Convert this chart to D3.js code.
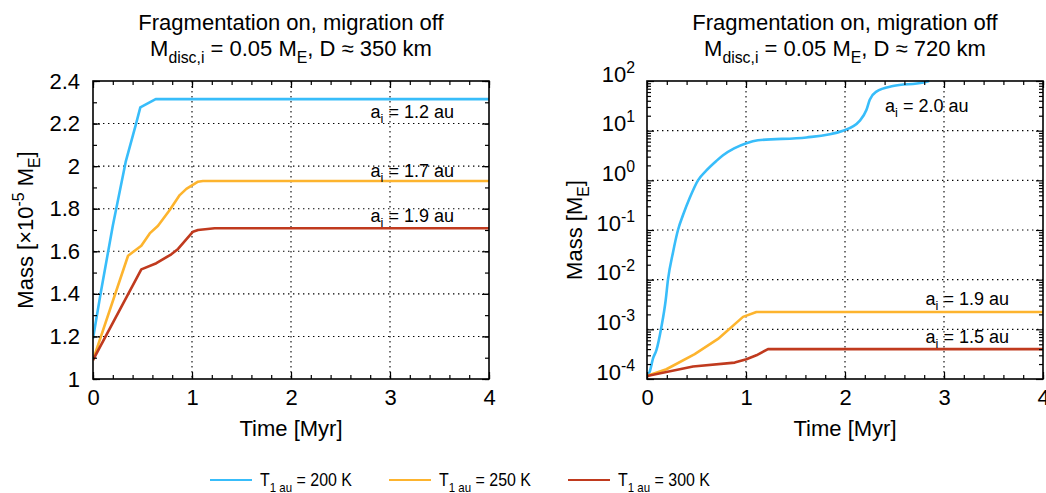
<!DOCTYPE html>
<html>
<head>
<meta charset="utf-8">
<script src="https://cdn.jsdelivr.net/npm/d3@7"></script>
<style>
  body { margin: 0; background: #fff; }
  svg { display: block; font-family: "Liberation Sans", Arial, sans-serif; }
</style>
</head>
<body>
<svg id="chart" width="1046" height="493"></svg>
<script>
// temperatures at 1 au, one series each
const tempLabels = ['200 K', '250 K', '300 K'];
const tempColors = ['#38bdfa', '#fdb42e', '#c03a1e'];

// left panel, D ~ 350 km, mass in units of 1e-5 M_E  [time Myr, mass]
const left200 = [[0, 1.19], [0.08, 1.41], [0.2, 1.72], [0.33, 2.02], [0.43, 2.19], [0.478, 2.276], [0.633, 2.315], [4, 2.315]];
const left250 = [[0, 1.089], [0.354, 1.579], [0.488, 1.626], [0.573, 1.684], [0.657, 1.72], [0.775, 1.794], [0.876, 1.864], [0.943, 1.893], [1.061, 1.927], [1.11, 1.93], [4, 1.93]];
const left300 = [[0, 1.089], [0.488, 1.515], [0.64, 1.544], [0.791, 1.586], [0.859, 1.611], [1.01, 1.692], [1.061, 1.70], [1.229, 1.708], [4, 1.708]];
const leftNotes = ['1.2', '1.7', '1.9'];

// right panel, D ~ 720 km, mass in M_E
const right200 = [[0, 1.15e-4], [0.027, 1.4e-4], [0.061, 2.6e-4], [0.095, 3.8e-4], [0.145, 1.1e-3], [0.189, 3.9e-3], [0.212, 1e-2],
  [0.262, 3.5e-2], [0.313, 0.1], [0.364, 0.2], [0.431, 0.44], [0.515, 1.0], [0.6, 1.58], [0.7, 2.45], [0.768, 3.2], [0.88, 4.4], [1.004, 5.6],
  [1.12, 6.4], [1.61, 7.3], [1.98, 10], [2.148, 15.8], [2.216, 26], [2.25, 42], [2.317, 61], [2.485, 79], [2.79, 93], [2.85, 100]];
const right250 = [[0, 1.15e-4], [0.196, 1.57e-4], [0.482, 3.16e-4], [0.717, 6.4e-4], [0.97, 1.78e-3], [1.105, 2.24e-3], [4, 2.24e-3]];
const right300 = [[0, 1.15e-4], [0.465, 1.78e-4], [0.886, 2.14e-4], [1.004, 2.5e-4], [1.105, 3.0e-4], [1.222, 4.0e-4], [4, 4.0e-4]];
const rightNotes = ['2.0', '1.9', '1.5'];

const timeTicks = [0, 1, 2, 3, 4];
const timeMinor = d3.range(0, 4.01, 0.2);
const linTicks = [1, 1.2, 1.4, 1.6, 1.8, 2, 2.2, 2.4];
const linMinor = d3.range(1, 2.41, 0.1);
const logTicks = [1e-4, 1e-3, 1e-2, 1e-1, 1, 10, 100];
const logMinor = d3.range(-4, 2).flatMap(e => d3.range(2, 10).map(k => k * Math.pow(10, e)));

const svg = d3.select('#chart');
const FS = 22;

function rich(sel, parts, size) {
  let shift = 0;
  parts.forEach(([s, kind]) => {
    const target = kind === 'sub' ? size * 0.3 : kind === 'sup' ? -size * 0.4 : 0;
    sel.append('tspan')
      .attr('dy', target - shift)
      .attr('font-size', kind ? size * 0.72 : size)
      .text(s);
    shift = target;
  });
  return sel;
}

function panel(cfg) {
  const x = d3.scaleLinear().domain([0, 4]).range([cfg.x0, cfg.x1]);
  const y = cfg.y.range([cfg.y1, cfg.y0]);
  const g = svg.append('g');

  // dotted grid
  const grid = g.append('g');
  grid.selectAll('line.v').data(timeTicks.slice(1, -1)).join('line').attr('class', 'v')
    .attr('x1', d => x(d)).attr('x2', d => x(d)).attr('y1', cfg.y0).attr('y2', cfg.y1);
  grid.selectAll('line.h').data(cfg.ticks.slice(1, -1)).join('line').attr('class', 'h')
    .attr('y1', d => y(d)).attr('y2', d => y(d)).attr('x1', cfg.x0).attr('x2', cfg.x1);
  grid.selectAll('line').attr('stroke', '#000').attr('stroke-width', 1.1).attr('stroke-dasharray', '1.4,3.6');

  // curves
  const clip = 'clip' + cfg.id;
  svg.append('clipPath').attr('id', clip).append('rect')
    .attr('x', cfg.x0).attr('y', cfg.y0 - 1).attr('width', cfg.x1 - cfg.x0).attr('height', cfg.y1 - cfg.y0 + 1);
  cfg.series.forEach((s, i) => {
    const line = d3.line().x(d => x(d[0])).y(d => y(d[1]))
      .curve(cfg.smooth && i === 0 ? d3.curveMonotoneX : d3.curveLinear);
    g.append('path').datum(s).attr('clip-path', `url(#${clip})`)
      .attr('fill', 'none').attr('stroke', tempColors[i]).attr('stroke-width', 2.6)
      .attr('stroke-linejoin', 'round').attr('d', line);
  });

  // ticks on all four sides, inward
  const axes = [
    [d3.axisBottom(x).tickValues(timeTicks).tickSize(-7).tickPadding(10).tickFormat(d3.format('d')), `translate(0,${cfg.y1})`],
    [d3.axisBottom(x).tickValues(timeMinor).tickSize(-4).tickFormat(''), `translate(0,${cfg.y1})`],
    [d3.axisTop(x).tickValues(timeTicks).tickSize(-7).tickFormat(''), `translate(0,${cfg.y0})`],
    [d3.axisTop(x).tickValues(timeMinor).tickSize(-4).tickFormat(''), `translate(0,${cfg.y0})`],
    [d3.axisLeft(y).tickValues(cfg.ticks).tickSize(-7).tickPadding(cfg.pad).tickFormat(cfg.fmt), `translate(${cfg.x0},0)`, 'yMain'],
    [d3.axisLeft(y).tickValues(cfg.minor).tickSize(-4).tickFormat(''), `translate(${cfg.x0},0)`],
    [d3.axisRight(y).tickValues(cfg.ticks).tickSize(-7).tickFormat(''), `translate(${cfg.x1},0)`],
    [d3.axisRight(y).tickValues(cfg.minor).tickSize(-4).tickFormat(''), `translate(${cfg.x1},0)`]
  ];
  axes.forEach(([ax, tr, tag]) => {
    const a = g.append('g').attr('transform', tr).call(ax);
    a.select('.domain').remove();
    a.selectAll('line').attr('stroke-width', 1.2);
    a.selectAll('text').attr('font-size', FS).attr('font-family', null).attr('fill', '#000');
    if (tag === 'yMain' && cfg.log) {
      a.selectAll('.tick text').each(function (d) {
        const t = d3.select(this);
        t.text('').attr('dy', '0.55em');
        rich(t, [['10', null], [String(Math.round(Math.log10(d))), 'sup']], FS);
      });
    }
  });

  // frame
  g.append('rect').attr('x', cfg.x0).attr('y', cfg.y0)
    .attr('width', cfg.x1 - cfg.x0).attr('height', cfg.y1 - cfg.y0)
    .attr('fill', 'none').attr('stroke', '#000').attr('stroke-width', 1.6);

  // titles
  const cx = (cfg.x0 + cfg.x1) / 2;
  g.append('text').attr('x', cx).attr('y', 30).attr('text-anchor', 'middle').attr('font-size', FS)
    .text('Fragmentation on, migration off');
  rich(g.append('text').attr('x', cx).attr('y', 56).attr('text-anchor', 'middle'),
    [['M', null], ['disc,i', 'sub'], [' = 0.05 M', null], ['E', 'sub'], [`, D \u2248 ${cfg.size} km`, null]], FS);

  g.append('text').attr('x', cx).attr('y', 436).attr('text-anchor', 'middle').attr('font-size', FS).text('Time [Myr]');
  rich(g.append('text').attr('transform', `translate(${cfg.labelX},230) rotate(-90)`).attr('text-anchor', 'middle'),
    cfg.ylabel, FS);

  // a_i annotations
  cfg.notes.forEach((n, i) => {
    rich(g.append('text').attr('x', cfg.noteX[i]).attr('y', cfg.noteY[i]).attr('text-anchor', cfg.noteAnchor[i]),
      [['a', null], ['i', 'sub'], [` = ${n} au`, null]], 18);
  });
}

panel({
  id: 'L', x0: 93, x1: 489, y0: 81, y1: 379,
  y: d3.scaleLinear().domain([1, 2.4]), ticks: linTicks, minor: linMinor, pad: 13,
  fmt: d => d3.format('~g')(d), series: [left200, left250, left300], size: 350,
  labelX: 33, ylabel: [['Mass [\u00d710', null], ['-5', 'sup'], [' M', null], ['E', 'sub'], [']', null]],
  notes: leftNotes, noteX: [454, 454, 454], noteY: [118, 177, 222], noteAnchor: ['end', 'end', 'end']
});

panel({
  id: 'R', x0: 647, x1: 1043, y0: 81, y1: 379, log: true, smooth: true,
  y: d3.scaleLog().domain([1e-4, 100]), ticks: logTicks, minor: logMinor, pad: 12,
  fmt: d => String(d), series: [right200, right250, right300], size: 720,
  labelX: 582, ylabel: [['Mass [M', null], ['E', 'sub'], [']', null]],
  notes: rightNotes, noteX: [885, 1009, 1009], noteY: [112, 305, 343], noteAnchor: ['start', 'end', 'end']
});

// legend (condensed text, as in the original)
const legX = [210, 389, 568];
const leg = svg.append('g');
tempLabels.forEach((lab, i) => {
  leg.append('line').attr('x1', legX[i]).attr('x2', legX[i] + 42).attr('y1', 480).attr('y2', 480)
    .attr('stroke', tempColors[i]).attr('stroke-width', 2.2);
  rich(leg.append('text').attr('transform', `translate(${legX[i] + 50},486) scale(0.84,1)`),
    [['T', null], ['1 au', 'sub'], [` = ${lab}`, null]], 19);
});
</script>
</body>
</html>
